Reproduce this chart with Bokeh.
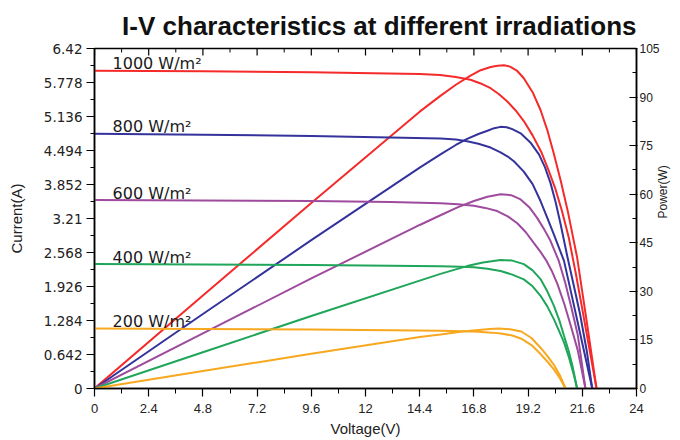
from math import pi
from bokeh.plotting import figure
from bokeh.models import Range1d, LinearAxis, FixedTicker, ColumnDataSource
from bokeh.core.properties import value
from bokeh.embed import file_html
from bokeh.resources import INLINE

# ---------------- data ----------------
series_names = ["1000 W/m²", "800 W/m²", "600 W/m²", "400 W/m²", "200 W/m²"]
series_colors = ["#f52a2a", "#34339c", "#9e4b9e", "#1fa65a", "#f7a81e"]

# I-V curves (voltage V, current A)
v_i_1000 = [0, 4.8, 9.6, 14.4, 15.3, 16.0, 16.65, 17.1, 17.54, 17.9, 18.28, 18.65, 19.01,
            19.4, 19.8, 20.1, 20.4, 20.7, 21.0, 21.3, 21.6, 21.9, 22.23]
i_1000 = [6.00, 5.99, 5.97, 5.94, 5.92, 5.88, 5.83, 5.76, 5.67, 5.56, 5.42, 5.25, 5.05,
          4.78, 4.45, 4.13, 3.78, 3.35, 2.85, 2.20, 1.50, 0.78, 0]
v_i_800 = [0, 4.8, 9.6, 13.1, 15.32, 16.0, 16.5, 17.0, 17.54, 17.98, 18.3, 18.57, 19.0,
           19.4, 19.75, 20.05, 20.34, 20.79, 21.1, 21.4, 21.7, 22.04]
i_800 = [4.81, 4.79, 4.77, 4.74, 4.72, 4.70, 4.67, 4.62, 4.55, 4.46, 4.38, 4.29, 4.10,
         3.86, 3.54, 3.22, 2.91, 2.41, 1.82, 1.24, 0.66, 0]
v_i_600 = [0, 4.8, 9.6, 13.1, 15.32, 16.1, 16.8, 17.3, 17.83, 18.3, 18.72, 19.1, 19.45,
           19.75, 20.0, 20.25, 20.5, 20.8, 21.1, 21.4, 21.74]
i_600 = [3.56, 3.55, 3.54, 3.52, 3.50, 3.48, 3.45, 3.41, 3.35, 3.25, 3.12, 2.95, 2.75,
         2.58, 2.42, 2.22, 1.97, 1.60, 1.17, 0.72, 0]
v_i_400 = [0, 4.8, 9.6, 13.1, 15.32, 16.2, 16.8, 17.4, 17.98, 18.5, 19.01, 19.4, 19.75,
           20.05, 20.34, 20.6, 20.79, 21.0, 21.23, 21.37]
i_400 = [2.35, 2.34, 2.33, 2.32, 2.31, 2.30, 2.29, 2.26, 2.22, 2.15, 2.06, 1.93, 1.75,
         1.55, 1.31, 1.06, 0.87, 0.60, 0.25, 0]
v_i_200 = [0, 4.8, 9.6, 13.1, 15.32, 16.3, 17.0, 17.6, 18.0, 18.5, 18.9, 19.35, 19.75,
           20.05, 20.34, 20.6, 20.86]
i_200 = [1.135, 1.125, 1.115, 1.10, 1.09, 1.08, 1.07, 1.055, 1.04, 1.0, 0.94, 0.82, 0.65,
         0.51, 0.36, 0.20, 0]

# P-V curves (voltage V, power W)
v_p_1000 = [0, 4.8, 9.6, 14.4, 15.3, 16.0, 16.65, 17.1, 17.54, 17.85, 18.13, 18.4, 18.7,
            19.01, 19.4, 19.75, 20.05, 20.34, 20.65, 20.95, 21.37, 21.8, 22.23]
p_1000 = [0, 28.7, 57.3, 85.5, 90.3, 93.8, 96.6, 98.3, 99.3, 99.7, 99.8, 99.4, 98.2,
          95.8, 91.5, 86.0, 79.8, 72.5, 64.0, 55.0, 40.5, 20.5, 0]
v_p_800 = [0, 4.8, 9.6, 14.4, 15.32, 16.0, 16.5, 17.0, 17.4, 17.7, 17.98, 18.25, 18.5,
           18.87, 19.3, 19.68, 19.95, 20.19, 20.42, 20.64, 20.93, 21.2, 21.5, 21.8, 22.04]
p_800 = [0, 23.0, 45.8, 68.2, 72.3, 75.2, 77.1, 78.6, 79.6, 80.4, 80.8, 80.7, 80.1,
         78.8, 76.0, 72.3, 68.3, 63.5, 57.5, 50.7, 41.0, 32.5, 23.0, 11.5, 0]
v_p_600 = [0, 4.8, 9.6, 14.4, 15.32, 16.1, 16.8, 17.4, 17.98, 18.45, 18.87, 19.25, 19.6,
           19.9, 20.19, 20.56, 20.85, 21.1, 21.4, 21.74]
p_600 = [0, 17.0, 34.0, 50.5, 53.5, 56.0, 57.9, 59.2, 60.0, 59.7, 58.4, 56.0, 52.7,
         49.3, 45.6, 39.4, 32.5, 25.5, 16.5, 0]
v_p_400 = [0, 4.8, 9.6, 14.4, 15.32, 16.0, 16.5, 17.2, 17.98, 18.5, 19.01, 19.4, 19.75,
           20.05, 20.34, 20.6, 20.79, 21.0, 21.16, 21.37]
p_400 = [0, 11.2, 22.4, 33.3, 35.4, 36.8, 37.8, 38.9, 39.7, 39.5, 38.4, 36.5, 33.8,
         30.0, 25.6, 20.7, 16.3, 11.5, 7.1, 0]
v_p_200 = [0, 4.8, 9.6, 14.4, 15.32, 16.3, 17.0, 17.5, 17.9, 18.4, 18.9, 19.35, 19.75,
           20.05, 20.34, 20.6, 20.86]
p_200 = [0, 5.4, 10.7, 15.9, 16.7, 17.6, 18.1, 18.4, 18.5, 18.3, 17.6, 15.6, 12.6,
         10.1, 7.3, 4.2, 0]

# tick labels
x_tick_labels = ["0", "2.4", "4.8", "7.2", "9.6", "12", "14.4", "16.8", "19.2", "21.6", "24"]
y_tick_labels = ["0", "0.642", "1.284", "1.926", "2.568", "3.21", "3.852", "4.494", "5.136", "5.778", "6.42"]
p_tick_labels = ["0", "15", "30", "45", "60", "75", "90", "105"]

iv_curves = [(v_i_1000, i_1000), (v_i_800, i_800), (v_i_600, i_600), (v_i_400, i_400), (v_i_200, i_200)]
pv_curves = [(v_p_1000, p_1000), (v_p_800, p_800), (v_p_600, p_600), (v_p_400, p_400), (v_p_200, p_200)]

# ---------------- figure ----------------
x_ticks = [float(s) for s in x_tick_labels]
y_ticks = [float(s) for s in y_tick_labels]
p_ticks = [float(s) for s in p_tick_labels]

def mids(t):
    return [(a + b) / 2 for a, b in zip(t[:-1], t[1:])]

W, H = 680, 440
FL, FR, FT, FB = 94, 636, 47, 388   # frame edges in pixels

p = figure(width=W, height=H,
           x_range=Range1d(x_ticks[0], x_ticks[-1]),
           y_range=Range1d(y_ticks[0], y_ticks[-1]),
           x_axis_type=None, y_axis_type=None,
           output_backend="svg", toolbar_location=None,
           min_border_left=FL, min_border_right=W - FR,
           min_border_top=FT, min_border_bottom=H - FB,
           title="I-V characteristics at different irradiations")
p.extra_y_ranges = {"power": Range1d(p_ticks[0], p_ticks[-1])}
p.outline_line_color = "black"
p.outline_line_width = 1.5
p.background_fill_color = "white"
p.border_fill_color = "white"

p.title.text_font = "Liberation Sans"
p.title.text_font_size = "26px"
p.title.text_font_style = "bold"
p.title.text_color = "#111111"
p.title.align = "right"
p.title.standoff = 16

AX = dict(axis_line_color="black", axis_line_width=1.5,
          major_tick_line_color="black", minor_tick_line_color="black",
          major_tick_line_width=1.2, minor_tick_line_width=1,
          major_label_text_color="#222222")

xb = LinearAxis(ticker=FixedTicker(ticks=x_ticks, minor_ticks=mids(x_ticks)),
                major_label_overrides={t: s for t, s in zip(x_ticks, x_tick_labels)},
                axis_label="Voltage(V)", axis_label_standoff=4,
                axis_label_text_font="Liberation Sans", axis_label_text_font_size="15px",
                axis_label_text_font_style="normal", axis_label_text_color="#222222",
                major_label_text_font="Liberation Sans", major_label_text_font_size="13px",
                major_label_standoff=7,
                major_tick_in=0, major_tick_out=8, minor_tick_in=0, minor_tick_out=5, **AX)
p.add_layout(xb, "below")

yl = LinearAxis(ticker=FixedTicker(ticks=y_ticks, minor_ticks=mids(y_ticks)),
                major_label_overrides={t: s for t, s in zip(y_ticks, y_tick_labels)},
                axis_label="Current(A)", axis_label_standoff=16,
                axis_label_text_font="Liberation Sans", axis_label_text_font_size="15px",
                axis_label_text_font_style="normal", axis_label_text_color="#222222",
                major_label_text_font="DejaVu Sans", major_label_text_font_size="13.5px",
                major_label_standoff=4,
                major_tick_in=0, major_tick_out=8, minor_tick_in=0, minor_tick_out=4, **AX)
p.add_layout(yl, "left")

yr = LinearAxis(y_range_name="power",
                ticker=FixedTicker(ticks=p_ticks, minor_ticks=mids(p_ticks)),
                major_label_overrides={t: s for t, s in zip(p_ticks, p_tick_labels)},
                axis_label="Power(W)", axis_label_standoff=0,
                axis_label_text_font="Liberation Sans", axis_label_text_font_size="12px",
                axis_label_text_font_style="normal", axis_label_text_color="#222222",
                major_label_text_font="Liberation Sans", major_label_text_font_size="12px",
                major_label_standoff=2,
                major_tick_in=7, major_tick_out=1, minor_tick_in=4, minor_tick_out=0, **AX)
try:
    yr.axis_label_orientation = pi / 2
except Exception:
    pass
p.add_layout(yr, "right")

# inward tick marks along the top edge (same ticker positions as the bottom axis)
y_top = y_ticks[-1]
px_per_unit = (FB - FT) / (y_ticks[-1] - y_ticks[0])
p.segment(x0=x_ticks, y0=[y_top] * len(x_ticks), x1=x_ticks,
          y1=[y_top - 7 / px_per_unit] * len(x_ticks), line_color="black", line_width=1.2)
xm = mids(x_ticks)
p.segment(x0=xm, y0=[y_top] * len(xm), x1=xm,
          y1=[y_top - 4 / px_per_unit] * len(xm), line_color="black", line_width=1)

for (v, i), (vp, pw), c in zip(iv_curves, pv_curves, series_colors):
    p.line(v, i, line_color=c, line_width=2)
    p.line(vp, pw, line_color=c, line_width=2, y_range_name="power")

src = ColumnDataSource(dict(x=[0.8] * len(series_names),
                            y=[iv[1][0] + 0.13 for iv in iv_curves],
                            t=series_names))
p.text(x="x", y="y", text="t", source=src, text_font=value("DejaVu Sans"),
       text_font_size="16px", text_baseline="middle", text_align="left",
       text_color="#1a1a1a")

open("out.html", "w").write(file_html(p, INLINE))
